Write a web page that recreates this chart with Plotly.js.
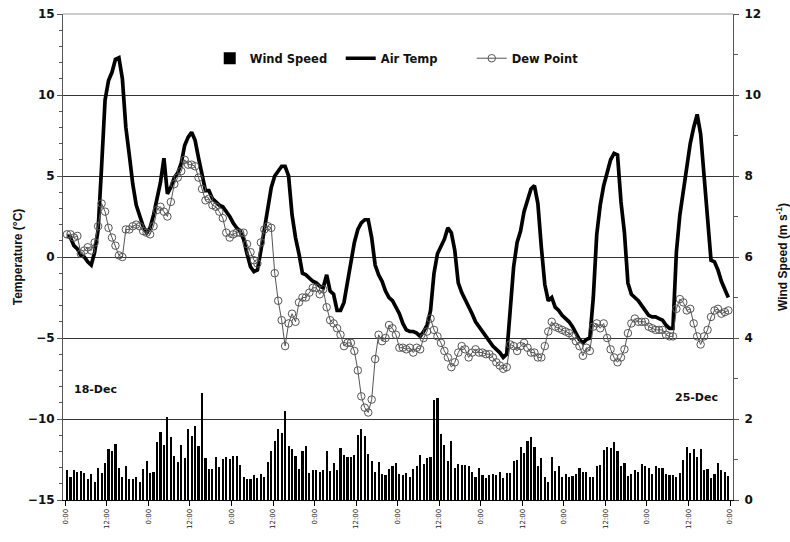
<!DOCTYPE html>
<html>
<head>
<meta charset="utf-8">
<script src="https://cdn.plot.ly/plotly-3.0.1.min.js"></script>
<style>html,body{margin:0;padding:0;background:#fff;}#chart{width:790px;height:542px;}</style>
</head>
<body>
<div id="chart"></div>
<script>
// Hourly observations, 18-Dec 00:00 to 25-Dec 23:00 (192 hours)
const airTemp = [
 1.3,1.2,0.7,0.5,0.1,0.0,-0.3,-0.5,0.3,1.7,5.6,9.7,10.9,11.4,12.2,12.3,11.0,8.0,6.3,4.5,3.2,2.6,1.9,1.5,
 1.8,2.6,3.7,4.6,6.1,3.9,4.3,4.9,5.2,5.8,6.9,7.4,7.7,7.2,6.1,5.0,4.1,4.1,3.6,3.4,3.2,3.1,2.8,2.5,
 2.1,1.8,1.6,1.1,0.2,-0.6,-0.9,-0.8,0.4,1.8,3.0,4.3,5.0,5.3,5.6,5.6,5.0,2.6,1.2,0.2,-1.0,-1.1,-1.3,-1.5,
 -1.6,-1.8,-1.9,-1.1,-2.1,-2.3,-3.3,-3.3,-2.8,-1.5,-0.2,0.9,1.7,2.1,2.3,2.3,1.2,-0.5,-1.1,-1.5,-2.1,-2.5,-2.7,-3.1,
 -3.5,-4.1,-4.5,-4.6,-4.6,-4.7,-4.9,-4.6,-4.2,-3.3,-1.0,0.2,0.7,1.1,1.8,1.5,0.4,-1.6,-2.2,-2.6,-3.0,-3.5,-4.0,-4.3,
 -4.6,-4.9,-5.2,-5.5,-5.7,-5.9,-6.2,-6.0,-3.3,-0.6,0.9,1.6,2.8,3.6,4.2,4.4,3.3,0.6,-1.7,-2.7,-2.5,-3.1,-3.3,-3.6,
 -3.8,-4.0,-4.3,-4.7,-5.1,-5.3,-5.1,-5.0,-2.5,1.4,3.2,4.4,5.3,6.0,6.4,6.3,3.4,1.5,-1.6,-2.3,-2.5,-2.7,-3.0,-3.3,
 -3.6,-3.7,-3.7,-3.8,-3.9,-4.2,-4.4,-4.4,0.3,2.6,4.1,5.8,7.0,8.0,8.8,7.6,5.0,1.8,-0.2,-0.3,-0.8,-1.5,-2.0,-2.5
];
const dewPoint = [
 1.4,1.4,1.2,1.3,0.2,0.4,0.6,0.4,0.9,1.9,3.3,2.8,1.8,1.2,0.7,0.1,0.0,1.7,1.7,1.9,2.0,1.9,1.6,1.5,
 1.4,1.9,2.9,3.1,2.8,2.5,3.4,4.5,4.9,5.3,6.0,5.7,5.7,5.6,4.9,4.2,3.5,3.6,3.2,3.1,2.8,2.4,1.5,1.2,
 1.4,1.5,1.5,1.5,0.8,0.3,-0.2,-0.4,0.9,1.7,1.9,1.8,-1.0,-2.7,-3.9,-5.5,-4.1,-3.5,-4.0,-2.8,-2.5,-2.5,-2.2,-1.9,
 -1.9,-2.3,-2.0,-3.1,-3.9,-4.1,-4.4,-4.8,-5.5,-5.3,-5.3,-5.8,-7.0,-8.6,-9.3,-9.6,-8.8,-6.3,-4.8,-5.2,-5.0,-4.2,-4.4,-4.8,
 -5.6,-5.6,-5.7,-5.6,-5.9,-5.6,-5.7,-5.0,-4.6,-3.8,-4.5,-4.9,-5.3,-5.8,-6.2,-6.8,-6.5,-5.9,-5.5,-5.7,-6.2,-5.9,-5.7,-5.9,
 -5.9,-6.0,-6.0,-6.2,-6.5,-6.7,-6.9,-6.8,-5.4,-5.5,-5.8,-5.5,-5.3,-5.6,-5.9,-5.9,-6.2,-6.2,-5.5,-4.6,-4.0,-4.3,-4.4,-4.5,
 -4.6,-4.7,-4.9,-5.2,-5.5,-6.1,-5.6,-5.8,-4.3,-4.1,-4.4,-4.1,-5.0,-5.7,-6.2,-6.5,-6.2,-5.7,-4.7,-4.1,-3.8,-4.0,-4.0,-4.0,
 -4.3,-4.4,-4.5,-4.5,-4.5,-4.8,-4.9,-4.9,-3.2,-2.6,-2.8,-3.3,-3.2,-4.1,-4.9,-5.4,-4.9,-4.5,-3.7,-3.3,-3.2,-3.5,-3.4,-3.3
];
const windSpeed = [
 0.73,0.58,0.74,0.68,0.72,0.66,0.51,0.64,0.45,0.78,0.66,0.91,1.26,1.20,1.39,0.80,0.56,0.83,0.53,0.53,0.58,0.45,0.77,0.97,
 0.66,0.69,1.42,1.69,1.36,2.05,1.55,1.09,0.93,1.36,1.03,1.75,1.57,1.83,1.34,2.64,1.03,0.76,0.76,1.06,0.81,1.01,1.06,1.02,
 1.09,1.09,0.86,0.58,0.51,0.51,0.61,0.55,0.64,0.56,0.93,1.20,1.45,1.75,1.65,2.19,1.34,1.26,1.09,0.76,1.20,1.34,0.66,0.74,
 0.73,0.69,0.74,1.20,0.72,0.91,0.73,1.28,1.12,1.06,1.06,1.12,1.61,1.75,1.57,1.14,0.97,0.70,0.93,0.64,0.61,0.77,0.83,0.91,
 0.64,0.61,0.66,0.58,0.76,0.83,1.12,0.89,1.03,1.06,2.48,2.52,1.63,1.36,0.97,1.46,0.78,0.88,0.87,0.87,0.85,0.69,0.58,0.80,
 0.61,0.55,0.62,0.64,0.61,0.69,0.55,0.66,0.66,0.97,0.99,1.30,1.17,1.46,1.55,1.31,0.83,1.03,0.58,0.45,1.06,0.72,0.83,0.56,
 0.64,0.58,0.60,0.64,0.80,0.68,0.69,0.56,0.56,0.83,0.87,1.24,1.31,1.28,1.44,1.22,0.83,0.91,0.60,0.64,0.74,0.69,0.88,0.83,
 0.80,0.64,0.84,0.79,0.78,0.64,0.62,0.62,0.58,0.66,0.99,1.31,1.16,1.26,1.06,1.26,0.73,0.76,0.55,0.64,0.91,0.73,0.70,0.60
];
const hourIndex = windSpeed.map((_, i) => i);
const tickHours = [-0.5,11.5,23.5,35.5,47.5,59.5,71.5,83.5,95.5,107.5,119.5,131.5,143.5,155.5,167.5,179.5,191.5];
const tickLabels = ["0:00","12:00","0:00","12:00","0:00","12:00","0:00","12:00","0:00",
 "12:00","0:00","12:00","0:00","12:00","0:00","12:00","0:00"];
const dayTicks = [23.5,47.5,71.5,95.5,119.5,143.5,167.5];

const bold = {family: 'DejaVu Sans, Liberation Sans, Arial', size: 12, color: '#111', weight: 'bold'};
const xr = [-1.15, 192.35];

const traces = [
  {type: 'bar', name: 'Wind Speed', x: hourIndex, y: windSpeed, yaxis: 'y2', xaxis: 'x',
   marker: {color: '#000'}, width: 0.62},
  {type: 'scatter', mode: 'lines', name: 'Air Temp', x: hourIndex, y: airTemp,
   line: {color: '#000', width: 3.7}},
  {type: 'scatter', mode: 'lines+markers', name: 'Dew Point', x: hourIndex, y: dewPoint,
   line: {color: '#555', width: 1},
   marker: {symbol: 'circle-open', size: 7.5, color: '#555', line: {width: 1}}}
];

const layout = {
  width: 790, height: 542,
  margin: {l: 63, r: 57, t: 14, b: 42, pad: 0},
  paper_bgcolor: '#fff', plot_bgcolor: '#fff',
  showlegend: true,
  bargap: 0,
  legend: {orientation: 'h', x: 0.219, xanchor: 'left', y: 0.909, yanchor: 'middle',
    font: {family: 'DejaVu Sans, Arial', size: 11.5, color: '#111', weight: 'bold'},
    bgcolor: 'rgba(0,0,0,0)', itemwidth: 30, traceorder: 'normal',
    entrywidth: 86, entrywidthmode: 'pixels'},
  xaxis: {range: xr, tickmode: 'array', tickvals: tickHours, ticktext: tickLabels, tickangle: -90,
    tickfont: {family: 'DejaVu Sans', size: 7, color: '#222'},
    ticks: 'outside', ticklen: 5, tickcolor: '#000', showline: true, linecolor: '#000', linewidth: 1,
    showgrid: false, zeroline: false, automargin: false},
  xaxis2: {overlaying: 'x', matches: 'x', anchor: 'free', position: 0.5, side: 'bottom',
    range: xr, tickmode: 'array', tickvals: dayTicks, ticks: 'outside', ticklen: 4, tickcolor: '#333',
    showticklabels: false, showline: false, showgrid: false, zeroline: false},
  yaxis: {range: [-15, 15], dtick: 5, tick0: 0, tickfont: bold,
    ticks: 'outside', ticklen: 5, tickcolor: '#555',
    minor: {dtick: 1, ticks: 'outside', ticklen: 3, tickcolor: '#555', showgrid: false},
    showline: true, linecolor: '#555', linewidth: 1,
    showgrid: true, gridcolor: '#333', gridwidth: 1, zeroline: false,
    title: {text: 'Temperature (\u00B0C)', font: {family: 'Liberation Sans, Arial', size: 12, color: '#111', weight: 'bold'}, standoff: 2}},
  yaxis2: {overlaying: 'y', side: 'right', range: [0, 12], dtick: 2, tick0: 0, tickfont: bold,
    ticks: 'outside', ticklen: 5, tickcolor: '#555', ticklabelstandoff: 3,
    minor: {dtick: 1, ticks: 'outside', ticklen: 4, tickcolor: '#555', showgrid: false},
    showline: true, linecolor: '#555', linewidth: 1, showgrid: false, zeroline: false,
    title: {text: 'Wind Speed (m s<sup>-1</sup>)', font: {family: 'Liberation Sans, Arial', size: 12, color: '#111', weight: 'bold'}, standoff: 19}},
  shapes: [
    {type: 'line', xref: 'paper', yref: 'paper', x0: 0, x1: 1, y0: 1, y1: 1, line: {color: '#999', width: 1}}
  ],
  annotations: [
    {text: '18-Dec', xref: 'paper', yref: 'y', x: 0.013, y: -8.2, xanchor: 'left', yanchor: 'middle', showarrow: false,
     font: {family: 'DejaVu Sans, Arial', size: 11, color: '#111', weight: 'bold'}},
    {text: '25-Dec', xref: 'paper', yref: 'y', x: 0.98, y: -8.7, xanchor: 'right', yanchor: 'middle', showarrow: false,
     font: {family: 'DejaVu Sans, Arial', size: 11, color: '#111', weight: 'bold'}}
  ]
};

Plotly.newPlot('chart', traces, layout, {staticPlot: true, displayModeBar: false});
</script>
</body>
</html>
